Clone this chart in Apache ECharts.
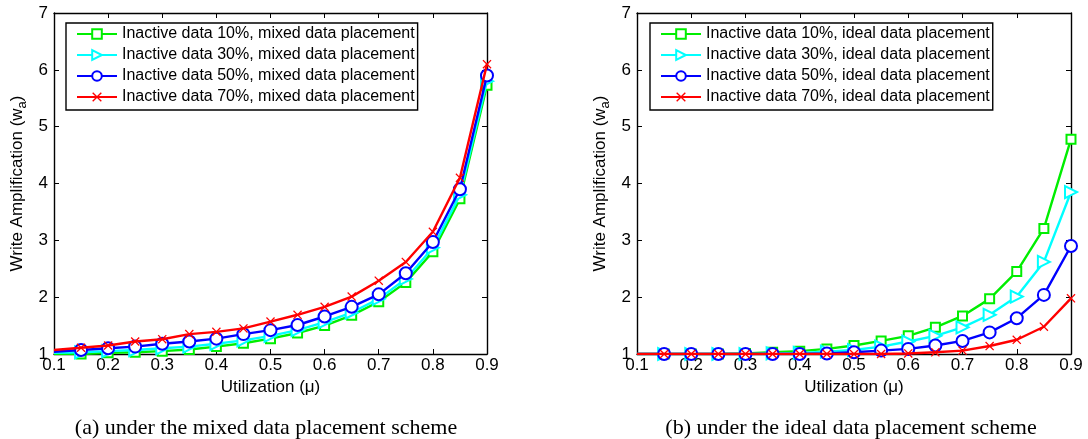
<!DOCTYPE html>
<html>
<head>
<meta charset="utf-8">
<script src="https://cdn.jsdelivr.net/npm/echarts@6/dist/echarts.min.js"></script>
<style>
html,body{margin:0;padding:0;background:#fff;}
#chart{width:1088px;height:439px;}
</style>
</head>
<body>
<div id="chart"></div>
<script>
// ---- Data ----
const utilization = [0.1, 0.15, 0.2, 0.25, 0.3, 0.35, 0.4, 0.45, 0.5, 0.55, 0.6, 0.65, 0.7, 0.75, 0.8, 0.85, 0.9];
const xTicks = ['0.1','0.2','0.3','0.4','0.5','0.6','0.7','0.8','0.9'];
const yTicks = ['1','2','3','4','5','6','7'];

// (a) mixed data placement
const mixed10 = [1.00, 1.00, 1.02, 1.03, 1.05, 1.08, 1.13, 1.19, 1.27, 1.37, 1.50, 1.68, 1.92, 2.26, 2.80, 3.73, 5.73];
const mixed30 = [1.02, 1.03, 1.05, 1.07, 1.10, 1.13, 1.18, 1.24, 1.32, 1.42, 1.56, 1.73, 1.97, 2.32, 2.87, 3.80, 5.80];
const mixed50 = [1.04, 1.07, 1.10, 1.13, 1.18, 1.22, 1.27, 1.35, 1.42, 1.51, 1.66, 1.83, 2.05, 2.42, 2.97, 3.90, 5.90];
const mixed70 = [1.07, 1.11, 1.15, 1.22, 1.26, 1.35, 1.39, 1.45, 1.57, 1.69, 1.83, 2.01, 2.29, 2.62, 3.15, 4.10, 6.10];

// (b) ideal data placement
const ideal10 = [1.00, 1.00, 1.00, 1.00, 1.01, 1.03, 1.05, 1.09, 1.15, 1.23, 1.32, 1.47, 1.67, 1.97, 2.45, 3.21, 4.78];
const ideal30 = [1.00, 1.00, 1.00, 1.00, 1.00, 1.01, 1.02, 1.04, 1.07, 1.13, 1.22, 1.32, 1.47, 1.69, 2.01, 2.62, 3.85];
const ideal50 = [1.00, 1.00, 1.00, 1.00, 1.00, 1.00, 1.00, 1.01, 1.03, 1.06, 1.09, 1.15, 1.23, 1.38, 1.63, 2.04, 2.90];
const ideal70 = [1.00, 1.00, 1.00, 1.00, 1.00, 1.00, 1.00, 1.00, 1.00, 1.00, 1.01, 1.03, 1.06, 1.14, 1.25, 1.48, 1.98];

const levels = ['10%', '30%', '50%', '70%'];
const captions = ['(a) under the mixed data placement scheme', '(b) under the ideal data placement scheme'];

// ---- Styling ----
const colors = ['#00ee00', '#00ffff', '#0000ff', '#ff0000'];
const crossPath = 'path://M0,1 L1,0 L5,4 L9,0 L10,1 L6,5 L10,9 L9,10 L5,6 L1,10 L0,9 L4,5 Z';
const symbols = ['emptyRect', 'emptyTriangle', 'emptyCircle', crossPath];
const symbolSizes = [9, 12, 12, 9];
const symbolRotates = [0, -90, 0, 0];
const FONT = '"Liberation Sans", Arial, sans-serif';
const SERIF = '"Liberation Serif", "Times New Roman", serif';

function mkData(vals) {
  return utilization.map((x, i) => i === 0 ? { value: [x, vals[i]], symbol: 'none' } : [x, vals[i]]);
}

const grids = [
  { left: 54, top: 13, width: 433, height: 341 },
  { left: 637, top: 13, width: 434, height: 341 }
];

const xAxes = [], yAxes = [];
grids.forEach((g, gi) => {
  const common = {
    gridIndex: gi, type: 'value', min: 0.1, max: 0.9, interval: 0.1,
    axisLine: { show: true, onZero: false, lineStyle: { color: '#000', width: 1.4 } },
    axisTick: { show: true, inside: true, length: 5, lineStyle: { color: '#000', width: 1 } },
    splitLine: { show: false }
  };
  xAxes.push(Object.assign({}, common, {
    position: 'bottom',
    name: 'Utilization (\u03bc)', nameLocation: 'middle', nameGap: 25,
    nameTextStyle: { fontFamily: FONT, fontSize: 17, color: '#000' },
    axisLabel: { show: true, margin: 3, fontFamily: FONT, fontSize: 17, color: '#000',
      formatter: v => { const s = v.toFixed(1); return xTicks.indexOf(s) >= 0 ? s : ''; } }
  }));
  xAxes.push(Object.assign({}, common, { position: 'top', axisLabel: { show: false } }));
  const ycommon = {
    gridIndex: gi, type: 'value', min: 1, max: 7, interval: 1,
    axisLine: { show: true, onZero: false, lineStyle: { color: '#000', width: 1.4 } },
    axisTick: { show: true, inside: true, length: 5, lineStyle: { color: '#000', width: 1 } },
    splitLine: { show: false }
  };
  yAxes.push(Object.assign({}, ycommon, {
    position: 'left',
    name: 'Write Amplification (w{sub|a})', nameLocation: 'middle', nameGap: 25,
    nameTextStyle: { fontFamily: FONT, fontSize: 17, color: '#000',
      rich: { sub: { fontFamily: FONT, fontSize: 13, color: '#000', verticalAlign: 'bottom', padding: [10, 0, 0, 0] } } },
    axisLabel: { show: true, margin: 6, fontFamily: FONT, fontSize: 17, color: '#000',
      formatter: v => { const s = String(Math.round(v)); return yTicks.indexOf(s) >= 0 ? s : ''; } }
  }));
  yAxes.push(Object.assign({}, ycommon, { position: 'right', axisLabel: { show: false } }));
});

const groups = [
  { label: 'mixed data placement', data: [mixed10, mixed30, mixed50, mixed70] },
  { label: 'ideal data placement', data: [ideal10, ideal30, ideal50, ideal70] }
];

const series = [];
const legends = [];
groups.forEach((grp, gi) => {
  const names = [];
  grp.data.forEach((vals, si) => {
    const name = 'Inactive data ' + levels[si] + ', ' + grp.label;
    names.push(name);
    series.push({
      name: name, type: 'line',
      xAxisIndex: gi * 2, yAxisIndex: gi * 2,
      data: mkData(vals),
      symbol: symbols[si], symbolSize: symbolSizes[si], symbolRotate: symbolRotates[si],
      showAllSymbol: true,
      lineStyle: { color: colors[si], width: 2.4 },
      itemStyle: si === 3 ? { color: colors[si] } : { color: colors[si], borderColor: colors[si], borderWidth: 2.2 },
      animation: false,
      z: 2 + si
    });
  });
  legends.push({
    data: names,
    orient: 'vertical',
    left: gi === 0 ? 66 : 650,
    top: 23,
    padding: [3, 3, 5, 10],
    itemWidth: 40, itemHeight: 12, itemGap: 5,
    backgroundColor: '#fff',
    borderColor: '#000', borderWidth: 1.4, borderRadius: 0,
    textStyle: { fontFamily: FONT, fontSize: 16, color: '#000' },
    selectedMode: false
  });
});

const option = {
  animation: false,
  backgroundColor: '#fff',
  title: [
    { text: captions[0], left: 261, top: 412, textAlign: 'center',
      textStyle: { fontFamily: SERIF, fontSize: 22, fontWeight: 'normal', color: '#000' } },
    { text: captions[1], left: 846, top: 412, textAlign: 'center',
      textStyle: { fontFamily: SERIF, fontSize: 22, fontWeight: 'normal', color: '#000' } }
  ],
  grid: grids,
  xAxis: xAxes,
  yAxis: yAxes,
  legend: legends,
  series: series
};

const chart = echarts.init(document.getElementById('chart'), null, { renderer: 'canvas' });
chart.setOption(option);
</script>
</body>
</html>
